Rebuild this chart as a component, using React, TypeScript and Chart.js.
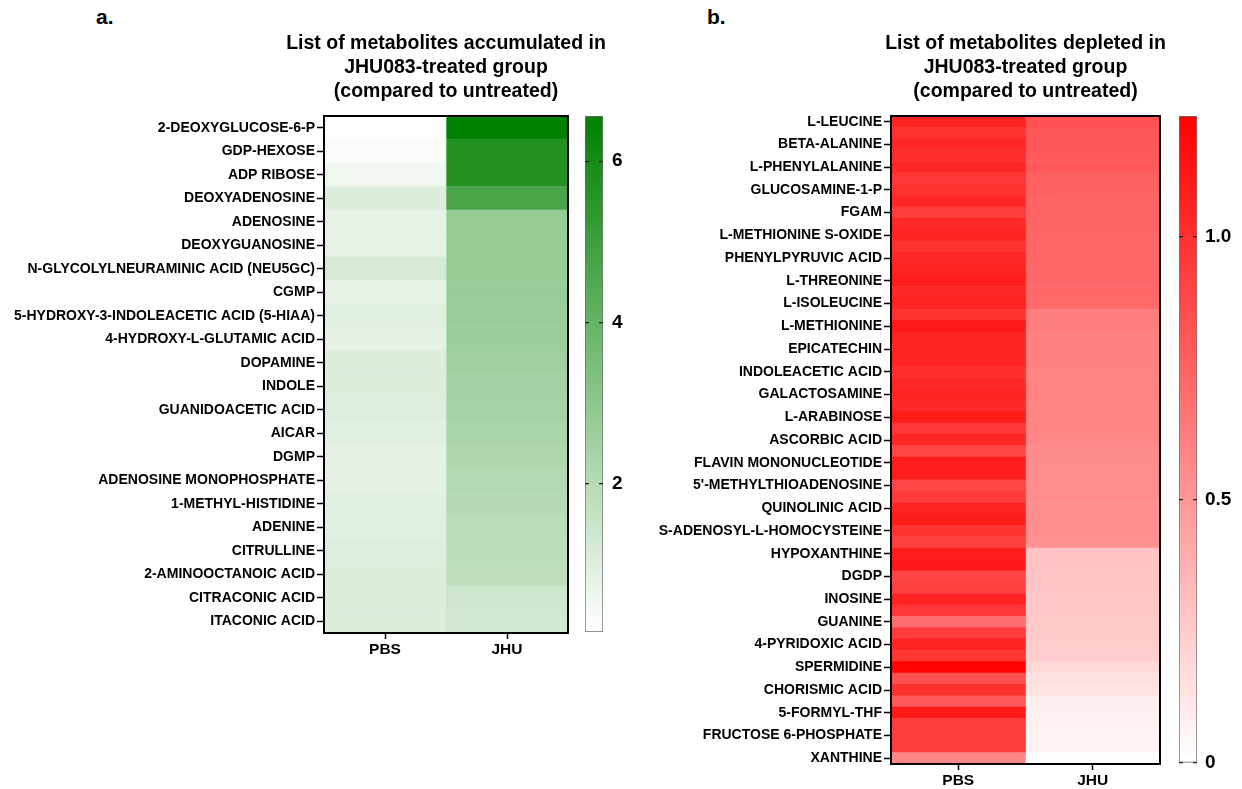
import React, { useEffect, useRef } from 'react';
import { Chart, registerables } from 'chart.js';

Chart.register(...registerables);

const FONT = "'Liberation Sans', Arial, Helvetica, sans-serif";

// ---------- Panel a: accumulated metabolites ----------
const accNames = [
  '2-DEOXYGLUCOSE-6-P', 'GDP-HEXOSE', 'ADP RIBOSE', 'DEOXYADENOSINE', 'ADENOSINE',
  'DEOXYGUANOSINE', 'N-GLYCOLYLNEURAMINIC ACID (NEU5GC)', 'CGMP',
  '5-HYDROXY-3-INDOLEACETIC ACID (5-HIAA)', '4-HYDROXY-L-GLUTAMIC ACID', 'DOPAMINE',
  'INDOLE', 'GUANIDOACETIC ACID', 'AICAR', 'DGMP', 'ADENOSINE MONOPHOSPHATE',
  '1-METHYL-HISTIDINE', 'ADENINE', 'CITRULLINE', '2-AMINOOCTANOIC ACID',
  'CITRACONIC ACID', 'ITACONIC ACID',
];
const accPBS = [0.16, 0.3, 0.55, 1.05, 0.8, 0.8, 1.2, 0.75, 0.95, 0.85, 1.05, 1.05, 1.0, 0.95, 0.85, 0.85, 0.9, 0.95, 1.0, 1.05, 1.05, 1.05];
const accJHU = [6.56, 5.7, 5.7, 4.7, 2.8, 2.8, 2.8, 2.75, 2.7, 2.65, 2.55, 2.45, 2.4, 2.3, 2.2, 2.1, 2.0, 1.9, 1.85, 1.8, 1.4, 1.35];
const accMin = 0.16;
const accMax = 6.56;
const accTicks = [2, 4, 6];
const accTitle = ['List of metabolites accumulated in', 'JHU083-treated group', '(compared to untreated)'];

// ---------- Panel b: depleted metabolites ----------
const depNames = [
  'L-LEUCINE', 'BETA-ALANINE', 'L-PHENYLALANINE', 'GLUCOSAMINE-1-P', 'FGAM',
  'L-METHIONINE S-OXIDE', 'PHENYLPYRUVIC ACID', 'L-THREONINE', 'L-ISOLEUCINE',
  'L-METHIONINE', 'EPICATECHIN', 'INDOLEACETIC ACID', 'GALACTOSAMINE', 'L-ARABINOSE',
  'ASCORBIC ACID', 'FLAVIN MONONUCLEOTIDE', "5'-METHYLTHIOADENOSINE", 'QUINOLINIC ACID',
  'S-ADENOSYL-L-HOMOCYSTEINE', 'HYPOXANTHINE', 'DGDP', 'INOSINE', 'GUANINE',
  '4-PYRIDOXIC ACID', 'SPERMIDINE', 'CHORISMIC ACID', '5-FORMYL-THF',
  'FRUCTOSE 6-PHOSPHATE', 'XANTHINE',
];
const depPBS = [
  1.06, 0.99, 1.04, 1.01, 1.04, 0.97, 0.99, 1.04, 0.94, 1.04,
  1.06, 0.99, 1.04, 1.06, 1.09, 1.04, 1.06, 0.99, 1.11, 1.06,
  1.06, 1.06, 1.01, 1.04, 1.06, 1.04, 1.11, 0.97, 1.04, 0.89,
  1.09, 1.09, 0.89, 0.94, 1.06, 1.09, 0.99, 0.92, 1.09, 1.11,
  0.89, 0.92, 1.06, 0.97, 0.7, 0.94, 1.06, 0.97, 1.21, 0.84,
  0.99, 0.8, 1.11, 0.94, 0.94, 0.94, 0.58,
];
const depJHU = [
  0.84, 0.81, 0.81, 0.8, 0.8,
  0.76, 0.76, 0.75, 0.75, 0.75, 0.74, 0.74, 0.74, 0.73, 0.73, 0.73, 0.72,
  0.62, 0.62, 0.61, 0.61, 0.61, 0.6, 0.6, 0.6, 0.59, 0.59, 0.59, 0.58,
  0.56, 0.56, 0.55, 0.55, 0.55, 0.54, 0.54, 0.54, 0.53,
  0.29, 0.29, 0.28, 0.28, 0.27, 0.27, 0.26, 0.26, 0.25, 0.24,
  0.19, 0.15, 0.14,
  0.08, 0.07, 0.07, 0.06, 0.06,
  0,
];
const depMin = 0;
const depMax = 1.23;
const depTicks = [0, 0.5, 1.0];
const depTitle = ['List of metabolites depleted in', 'JHU083-treated group', '(compared to untreated)'];

const groups = ['PBS', 'JHU'];

const GREEN: [number, number, number] = [0, 128, 0];
const RED: [number, number, number] = [255, 0, 0];

function scaleColor(v: number, min: number, max: number, rgb: [number, number, number]) {
  const t = Math.max(0, Math.min(1, (v - min) / (max - min)));
  const c = rgb.map((x) => Math.round(255 + (x - 255) * t));
  return `rgb(${c[0]},${c[1]},${c[2]})`;
}

const framePlugin = {
  id: 'frame',
  afterDatasetsDraw(chart: any, _args: any, opts: any) {
    if (!opts || !opts.width) return;
    const { ctx, chartArea } = chart;
    ctx.save();
    ctx.strokeStyle = opts.color;
    ctx.lineWidth = opts.width;
    ctx.strokeRect(chartArea.left, chartArea.top, chartArea.right - chartArea.left, chartArea.bottom - chartArea.top);
    ctx.restore();
  },
};

function heatmapConfig(
  rowLabels: string[],
  values: number[][],
  min: number,
  max: number,
  rgb: [number, number, number],
  title: string[],
  yWidth: number,
  xHeight: number,
  labelEvery: number,
) {
  return {
    type: 'bar',
    data: {
      labels: rowLabels,
      datasets: groups.map((g, gi) => ({
        label: g,
        data: values[gi].map(() => [gi, gi + 1]),
        backgroundColor: values[gi].map((v) => scaleColor(v, min, max, rgb)),
        borderWidth: 0,
        barPercentage: 1,
        categoryPercentage: 1,
        grouped: false,
      })),
    },
    plugins: [framePlugin],
    options: {
      indexAxis: 'y',
      animation: false,
      responsive: false,
      maintainAspectRatio: false,
      layout: { padding: 0 },
      plugins: {
        legend: { display: false },
        tooltip: { enabled: false },
        frame: { color: '#000', width: 2 },
        title: {
          display: true,
          text: title,
          color: '#000',
          fullSize: true,
          font: { family: FONT, size: 19.5, weight: 'bold', lineHeight: 24 / 19.5 },
          padding: { top: 32, bottom: 12 },
        },
      },
      scales: {
        y: {
          type: 'category',
          offset: true,
          border: { display: false },
          grid: {
            offset: false,
            drawOnChartArea: false,
            drawTicks: true,
            tickLength: 7,
            tickWidth: 1.5,
            tickColor: (ctx: any) => (ctx.index % labelEvery === 0 ? '#000' : 'rgba(0,0,0,0)'),
          },
          ticks: {
            autoSkip: false,
            color: '#000',
            padding: 2,
            font: { family: FONT, size: 14, weight: 'bold' },
          },
          afterFit: (s: any) => {
            s.width = yWidth;
          },
        },
        // empty spacer on the right, mirroring the label column, so the title is centred on the grid
        spacer: {
          type: 'linear',
          position: 'right',
          display: true,
          border: { display: false },
          grid: { display: false },
          ticks: { display: false },
          afterFit: (s: any) => {
            s.width = yWidth;
          },
        },
        x: {
          type: 'linear',
          min: 0,
          max: groups.length,
          border: { display: false },
          grid: { drawOnChartArea: false, drawTicks: true, tickLength: 6, tickWidth: 1.5, tickColor: '#000' },
          afterBuildTicks: (s: any) => {
            s.ticks = groups.map((_, i) => ({ value: i + 0.5 }));
          },
          ticks: {
            color: '#000',
            padding: 1,
            font: { family: FONT, size: 15.5, weight: 'bold' },
            callback: (_v: any, i: number) => groups[i],
          },
          afterFit: (s: any) => {
            s.height = xHeight;
          },
        },
      },
    },
  };
}

function colorbarConfig(
  min: number,
  max: number,
  rgb: [number, number, number],
  ticks: number[],
  fmt: (v: number) => string,
  yWidth: number,
  padBottom: number,
  labelPad: number,
) {
  const end = `rgb(${rgb[0]},${rgb[1]},${rgb[2]})`;
  return {
    type: 'bar',
    data: {
      labels: [''],
      datasets: [
        {
          data: [[min, max]],
          backgroundColor: (ctx: any) => {
            const ca = ctx.chart.chartArea;
            if (!ca) return end;
            const g = ctx.chart.ctx.createLinearGradient(0, ca.bottom, 0, ca.top);
            g.addColorStop(0, '#ffffff');
            g.addColorStop(1, end);
            return g;
          },
          borderColor: '#6e6e6e',
          borderWidth: 1,
          borderSkipped: false,
          barPercentage: 1,
          categoryPercentage: 1,
        },
      ],
    },
    options: {
      animation: false,
      responsive: false,
      maintainAspectRatio: false,
      layout: { padding: { left: 10, right: 0, top: 116, bottom: padBottom } },
      plugins: { legend: { display: false }, tooltip: { enabled: false } },
      scales: {
        x: { display: false },
        y: {
          position: 'right',
          min,
          max,
          border: { display: false, dash: [4, 10] },
          grid: { z: 1, drawOnChartArea: true, drawTicks: false, color: '#222', lineWidth: 1.2 },
          afterBuildTicks: (s: any) => {
            s.ticks = ticks.map((v) => ({ value: v }));
          },
          ticks: {
            color: '#000',
            padding: labelPad,
            font: { family: FONT, size: 19, weight: 'bold' },
            callback: (v: any) => fmt(Number(v)),
          },
          afterFit: (s: any) => {
            s.width = yWidth;
          },
        },
      },
    },
  };
}

function ChartBox({ config, left, top, width, height }: any) {
  const ref = useRef<HTMLCanvasElement>(null);
  useEffect(() => {
    const chart = new Chart(ref.current as HTMLCanvasElement, config);
    return () => chart.destroy();
  }, []);
  return (
    <div style={{ position: 'absolute', left, top, width, height }}>
      <canvas ref={ref} width={width} height={height} style={{ width, height, display: 'block' }} />
    </div>
  );
}

export default function App() {
  const depRowLabels = depPBS.map((_, i) => (i % 2 === 0 ? depNames[i / 2] : ''));
  const letter: React.CSSProperties = {
    position: 'absolute',
    top: 5,
    fontFamily: FONT,
    fontWeight: 'bold',
    fontSize: 21,
    lineHeight: '24px',
    color: '#000',
  };
  return (
    <div style={{ position: 'absolute', left: 0, top: 0, width: 1242, height: 789, background: '#fff', overflow: 'hidden' }}>
      <div style={{ ...letter, left: 96 }}>a.</div>
      <div style={{ ...letter, left: 707 }}>b.</div>
      <ChartBox
        left={0}
        top={0}
        width={892}
        height={680}
        config={heatmapConfig(accNames, [accPBS, accJHU], accMin, accMax, GREEN, accTitle, 324, 47, 1)}
      />
      <ChartBox
        left={575}
        top={0}
        width={65}
        height={660}
        config={colorbarConfig(accMin, accMax, GREEN, accTicks, (v) => String(v), 37, 28, 9)}
      />
      <ChartBox
        left={640}
        top={0}
        width={771}
        height={789}
        config={heatmapConfig(depRowLabels, [depPBS, depJHU], depMin, depMax, RED, depTitle, 251, 25, 2)}
      />
      <ChartBox
        left={1169}
        top={0}
        width={73}
        height={789}
        config={colorbarConfig(depMin, depMax, RED, depTicks, (v) => (v === 0 ? '0' : v.toFixed(1)), 45, 26, 8)}
      />
    </div>
  );
}
